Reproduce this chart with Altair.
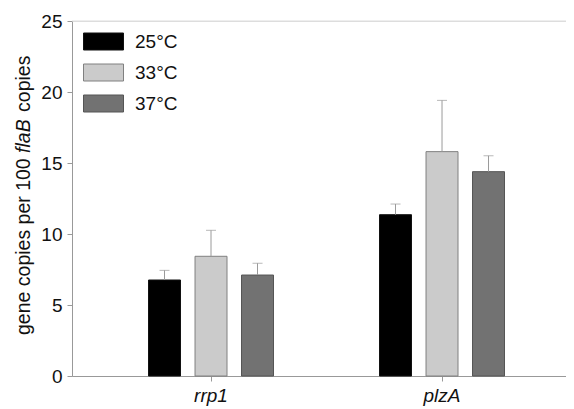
import altair as alt
import pandas as pd

genes = ["rrp1", "plzA"]
temps = ["25°C", "33°C", "37°C"]
means_rrp1 = [6.76, 8.43, 7.11]
means_plza = [11.36, 15.80, 14.39]
err_rrp1 = [0.68, 1.83, 0.83]
err_plza = [0.75, 3.61, 1.12]
fills = ["#000000", "#cbcbcb", "#727272"]
strokes = ["#111111", "#808080", "#555555"]
y_ticks = [0, 5, 10, 15, 20, 25]

rows = []
for g, ms, es in [(genes[0], means_rrp1, err_rrp1), (genes[1], means_plza, err_plza)]:
    for t, m, e in zip(temps, ms, es):
        rows.append({"gene": g, "temp": t, "mean": m, "top": m + e})
df = pd.DataFrame(rows)

FONT = "Liberation Sans"
W, H = 494, 355

xscale = alt.Scale(paddingInner=0.0563, paddingOuter=0.0974, align=0.667)
offscale = alt.Scale(paddingInner=0.312, paddingOuter=1.0)

xenc = alt.X("gene:N", sort=genes, title=None, scale=xscale,
             axis=alt.Axis(labelFontStyle="italic", labelAngle=0, labelFontSize=19,
                           labelFont=FONT, labelColor="#111", tickSize=5, labelPadding=5,
                           domainColor="#999", tickColor="#999"))
xoff = alt.XOffset("temp:N", sort=temps, scale=offscale)
yscale = alt.Scale(domain=[0, 25], nice=False)

bars = alt.Chart(df).mark_bar(strokeWidth=1, strokeOpacity=1).encode(
    x=xenc,
    xOffset=xoff,
    y=alt.Y("mean:Q", scale=yscale, title=None,
            axis=alt.Axis(values=y_ticks, grid=False, labelFontSize=19, labelFont=FONT,
                          labelColor="#111", tickSize=5, labelPadding=5,
                          domainColor="#999", tickColor="#999")),
    fill=alt.Fill("temp:N", sort=temps,
                  scale=alt.Scale(domain=temps, range=fills),
                  legend=alt.Legend(title=None, orient="none", legendX=11, legendY=0,
                                    symbolType="M-1,-0.425L1,-0.425L1,0.425L-1,0.425Z",
                                    symbolSize=1600, symbolStrokeColor="#888",
                                    symbolStrokeWidth=1, labelFontSize=19, labelFont=FONT,
                                    labelColor="#111", labelOffset=11, rowPadding=-1,
                                    padding=0)),
    stroke=alt.Stroke("temp:N", sort=temps,
                      scale=alt.Scale(domain=temps, range=strokes), legend=None),
)

err_line = alt.Chart(df).mark_rule(color="#9a9a9a", strokeWidth=1).encode(
    x=alt.X("gene:N", sort=genes, scale=xscale),
    xOffset=alt.XOffset("temp:N", sort=temps, scale=offscale),
    y=alt.Y("mean:Q", scale=yscale),
    y2="top:Q",
)
err_cap = alt.Chart(df).mark_tick(color="#9a9a9a", thickness=1, size=10, orient="horizontal").encode(
    x=alt.X("gene:N", sort=genes, scale=xscale),
    xOffset=alt.XOffset("temp:N", sort=temps, scale=offscale),
    y=alt.Y("top:Q", scale=yscale),
)

top_line = alt.Chart(pd.DataFrame({"v": [25]})).mark_rule(color="#dddddd", strokeWidth=1).encode(
    y=alt.Y("v:Q", scale=yscale)
)

fs = 19.5
# (text, style, advance in em including following space)
title_parts = [
    ("gene copies per 100", "normal", 9.339),
    ("flaB", "italic", 1.723 + 0.278 + 0.1),
    ("copies", "normal", 2.89),
]
title_layers = []
pos = 314.0
for txt, style, em in title_parts:
    title_layers.append(
        alt.Chart(pd.DataFrame({"t": [txt]})).mark_text(
            angle=270, align="left", baseline="alphabetic", fontSize=fs, font=FONT,
            fontStyle=style, color="#111"
        ).encode(text="t:N", x=alt.value(-42), y=alt.value(pos))
    )
    pos -= em * fs

chart = alt.layer(top_line, bars, err_line, err_cap, *title_layers).properties(
    width=W, height=H,
    autosize=alt.AutoSizeParams(type="none"),
    padding={"left": 64, "top": 13, "right": 0, "bottom": 33},
).configure_view(stroke=None).configure(background="white")

chart.save("out.html", embed_options={"renderer": "svg", "actions": False})
